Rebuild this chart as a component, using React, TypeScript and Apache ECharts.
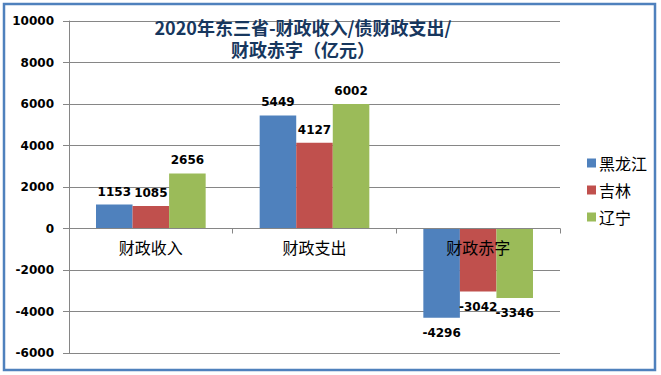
import React, { useEffect, useRef } from "react";
import * as echarts from "echarts";

const categories = ["财政收入", "财政支出", "财政赤字"];
const seriesNames = ["黑龙江", "吉林", "辽宁"];
const heilongjiang = [1153, 5449, -4296];
const jilin = [1085, 4127, -3042];
const liaoning = [2656, 6002, -3346];
const colors = ["#4F81BD", "#C0504D", "#9BBB59"];
const titleLines = ["2020年东三省-财政收入/债财政支出/", "财政赤字（亿元）"];

const Y_MIN = -6000;
const Y_MAX = 10000;
const GRID_TOP = 21;
const GRID_BOTTOM = 22;
const H = 375;

export default function App() {
  const ref = useRef<HTMLDivElement>(null);
  useEffect(() => {
    if (!ref.current) return;
    const chart = echarts.init(ref.current, undefined, { renderer: "svg" });
    const allData = [heilongjiang, jilin, liaoning];
    const gridH = H - GRID_TOP - GRID_BOTTOM;
    const zeroFromBottom = (gridH * (0 - Y_MIN)) / (Y_MAX - Y_MIN);
    chart.setOption({
      animation: false,
      backgroundColor: "#ffffff",
      graphic: [
        {
          type: "rect",
          shape: { x: 4, y: 4, width: 651, height: 366 },
          style: { fill: "none", stroke: "#4F81BD", lineWidth: 2.5 },
          silent: true,
        },
        ...titleLines.map((t, i) => ({
          type: "text",
          x: 303,
          y: 27 + i * 22,
          style: {
            text: t,
            fill: "#17375E",
            font: "bold 18px 'Noto Sans CJK SC'",
            align: "center",
            verticalAlign: "middle",
            lineHeight: 20,
          },
          z: 10,
        })),
      ],
      grid: { left: 69, right: 101, top: GRID_TOP, bottom: GRID_BOTTOM, containLabel: false },
      legend: {
        orient: "vertical",
        left: 582,
        top: 150,
        itemWidth: 9,
        itemHeight: 9,
        itemGap: 11,
        icon: "rect",
        data: seriesNames,
        textStyle: { fontSize: 16, color: "#000", fontFamily: "Noto Sans CJK SC", padding: [0, 0, 0, -2] },
      },
      xAxis: {
        type: "category",
        data: categories,
        position: "bottom",
        offset: -zeroFromBottom,
        z: 5,
        axisLine: { onZero: false, lineStyle: { color: "#868686", width: 1 } },
        axisTick: { show: true, length: 5, lineStyle: { color: "#868686" } },
        axisLabel: { fontSize: 16, color: "#000", fontFamily: "Noto Sans CJK SC", margin: 10 },
        splitLine: { show: false },
      },
      yAxis: {
        type: "value",
        min: Y_MIN,
        max: Y_MAX,
        interval: 2000,
        axisLine: { show: true, lineStyle: { color: "#868686", width: 1 } },
        axisTick: { show: true, length: 6, lineStyle: { color: "#868686" } },
        axisLabel: {
          fontSize: 12,
          fontWeight: "bold",
          color: "#000",
          fontFamily: "DejaVu Sans",
          margin: 15,
          formatter: (v: number) => String(v),
        },
        splitLine: { show: true, lineStyle: { color: "#868686", width: 1 } },
      },
      series: seriesNames.map((name, i) => ({
        name,
        type: "bar",
        z: 2,
        barGap: "0%",
        barCategoryGap: "33%",
        itemStyle: { color: colors[i] },
        data: allData[i].map((v) => ({
          value: v,
          label: { position: v < 0 ? "bottom" : "top", distance: v < 0 ? 9 : 7 },
        })),
        label: {
          show: true,
          color: "#000",
          fontSize: 12,
          fontWeight: "bold",
          fontFamily: "DejaVu Sans",
        },
      })),
    });
    return () => chart.dispose();
  }, []);
  return (
    <div style={{ position: "absolute", left: 0, top: 0, width: 661, height: 375 }}>
      <div ref={ref} style={{ width: 661, height: 375 }} />
    </div>
  );
}
